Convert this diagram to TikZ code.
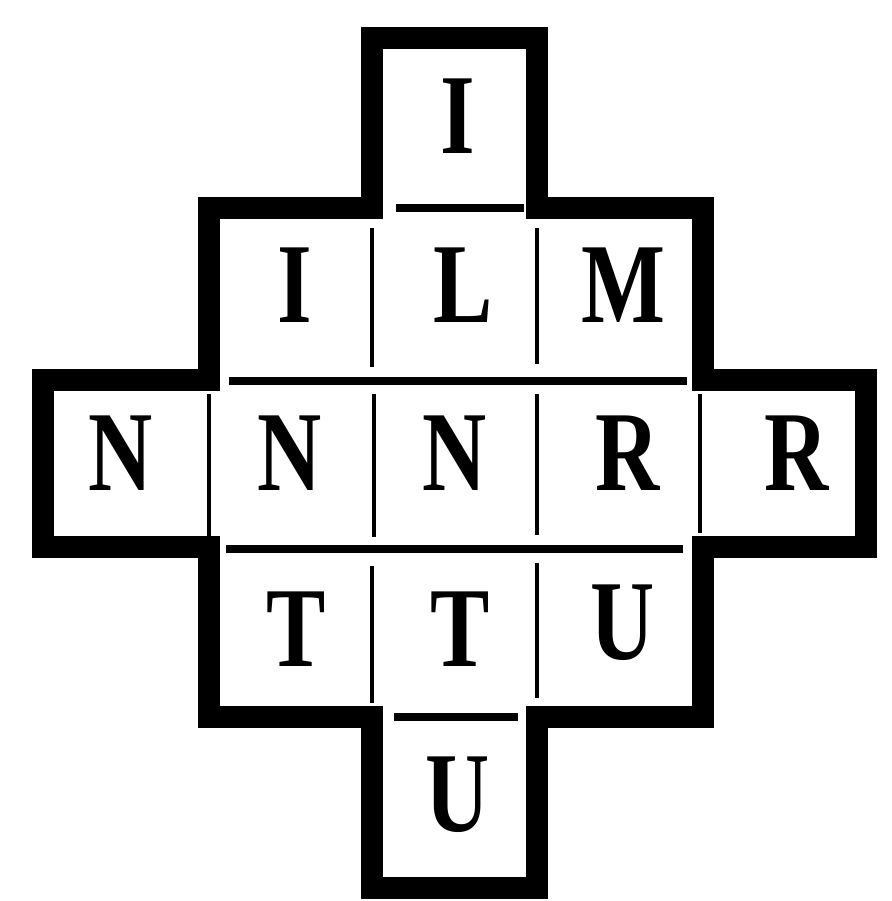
\documentclass[tikz,border=0pt]{standalone}
\usepackage{fontspec}
\setmainfont{Liberation Serif}
\usepackage{tikz}

\begin{document}
\begin{tikzpicture}[x=0.5pt, y=-0.5pt,
  rim/.style={line width=11pt, line join=miter},
  hrule/.style={line width=4pt},
  vrule/.style={line width=1.6pt},
  glyph/.style={font=\fontsize{57}{57}\selectfont\bfseries, inner sep=0pt, xscale=0.78}]
\fill[white] (0,0) rectangle (891,901);
\useasboundingbox (0,0) rectangle (891,901);
% letters
\node[glyph] (r1c3) at (458,116) {I};
\node[glyph] (r2c2) at (295,285) {I};
\node[glyph] (r2c3) at (463,285) {L};
\node[glyph] (r2c4) at (623,285) {M};
\node[glyph] (r3c1) at (121,453) {N};
\node[glyph] (r3c2) at (290,453) {N};
\node[glyph] (r3c3) at (455,453) {N};
\node[glyph] (r3c4) at (628,453) {R};
\node[glyph] (r3c5) at (797,453) {R};
\node[glyph] (r4c2) at (296,629) {T};
\node[glyph] (r4c3) at (460,629) {T};
\node[glyph] (r4c4) at (623,623) {U};
\node[glyph] (r5c3) at (458,795) {U};
% cross outline
\draw[rim] (372,38) -- (537,38) -- (537,208) -- (703,208) -- (703,380)
  -- (866,380) -- (866,547) -- (703,547) -- (703,717) -- (537,717)
  -- (537,888) -- (372,888) -- (372,717) -- (209,717) -- (209,547)
  -- (43,547) -- (43,380) -- (209,380) -- (209,208) -- (372,208) -- cycle;
% rules between rows
\draw[hrule] (396,208) -- (524,208);
\draw[hrule] (229,381) -- (687,381);
\draw[hrule] (226,549) -- (683,549);
\draw[hrule] (394,717) -- (518,717);
% rules between columns
\draw[vrule] (372,228) -- (372,367);
\draw[vrule] (537,228) -- (537,364);
\draw[vrule] (209,394) -- (209,537);
\draw[vrule] (374,394) -- (374,537);
\draw[vrule] (537,394) -- (537,535);
\draw[vrule] (700,394) -- (700,533);
\draw[vrule] (372,566) -- (372,703);
\draw[vrule] (537,563) -- (537,698);
\end{tikzpicture}
\end{document}
